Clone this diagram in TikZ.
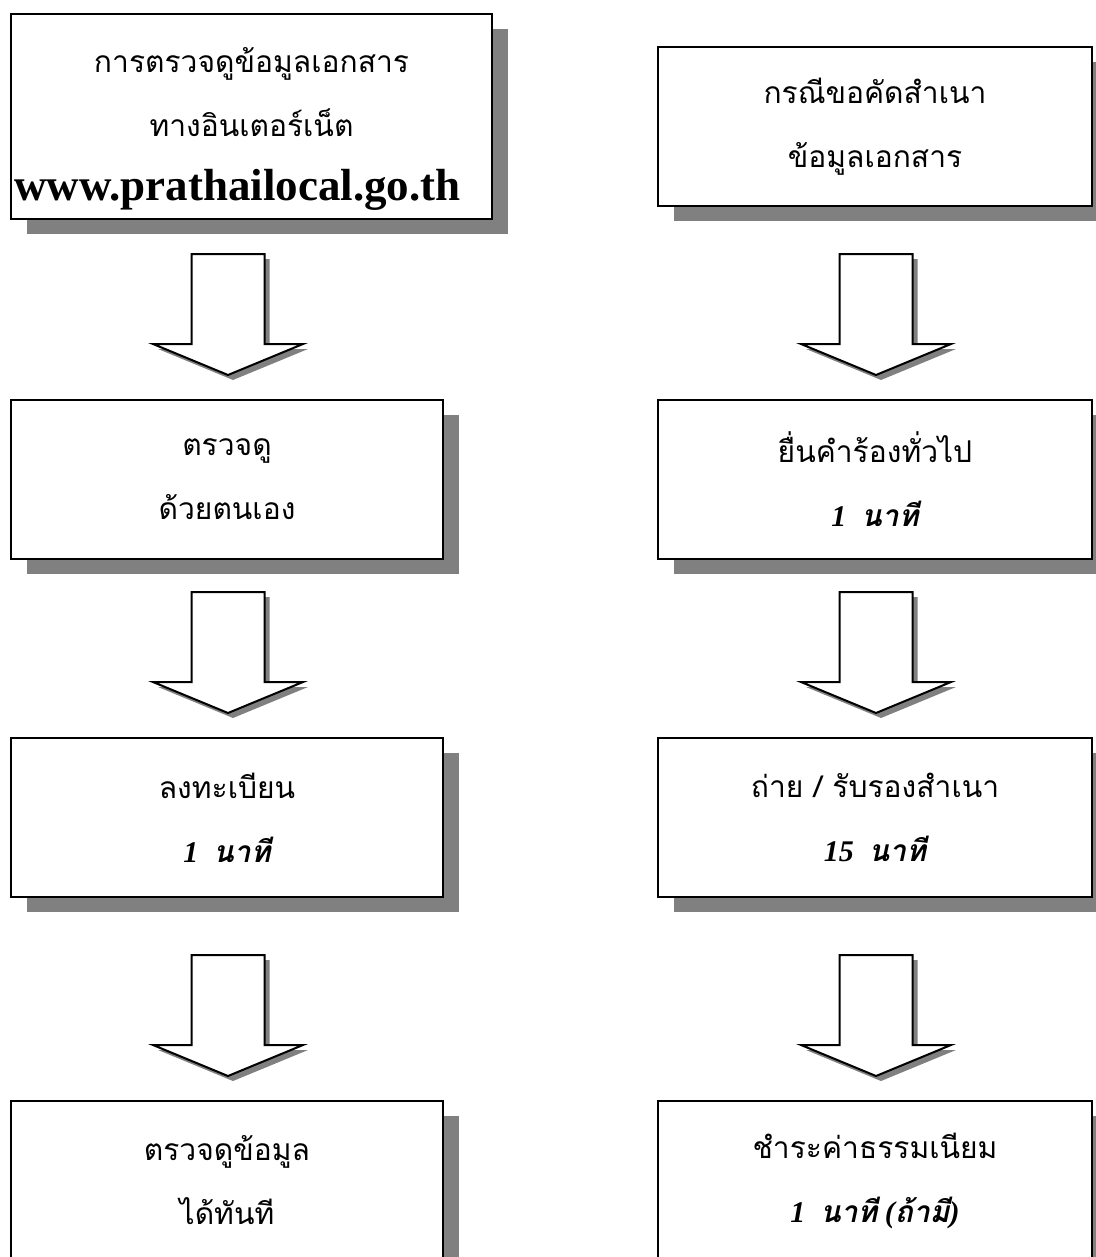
\documentclass[tikz,border=0pt]{standalone}
\usepackage{fontspec}
\setmainfont{Liberation Serif}
\newfontfamily\thaifont[Script=Thai]{Loma}
\usetikzlibrary{positioning,shadows,calc}

\newcommand\nati[1]{{\rmfamily\bfseries\itshape #1\ \ {\thaifont นาที}}}

\tikzset{
  box/.style={draw, line width=1pt, fill=white, minimum width=216pt,
    minimum height=79.5pt, inner sep=0pt, align=center,
    font=\thaifont\fontsize{15}{32}\selectfont,
    drop shadow={shadow xshift=8pt, shadow yshift=-7.5pt, fill=black!50, opacity=1}},
  downblock/.pic={
    \fill[black!50, shift={(5,5)}] (0,0) -- (75,-31) -- (36.5,-31) -- (36.5,-121)
      -- (-36.5,-121) -- (-36.5,-31) -- (-75,-31) -- cycle;
    \filldraw[fill=white, draw=black, line width=1pt] (0,0) -- (75,-31) -- (36.5,-31)
      -- (36.5,-121) -- (-36.5,-121) -- (-36.5,-31) -- (-75,-31) -- cycle;
  }
}

\begin{document}
\begin{tikzpicture}[x=0.5pt,y=-0.5pt]
  \useasboundingbox (0,0) rectangle (1096,1257);
  \fill[white] (0,0) rectangle (1096,1257);

  % left column
  \node[box, minimum width=240.5pt, minimum height=102.5pt] (l1) at (251.5,116.5)
    {\rule{0pt}{25pt}การตรวจดูข้อมูลเอกสาร\\ทางอินเตอร์เน็ต\\\mbox{\rmfamily\bfseries\fontsize{22.5}{32}\selectfont www.prathailocal.go.th\kern14pt}};
  \node[box] (l2) [below=89.5pt of l1.south west, anchor=north west] {ตรวจดู\\ด้วยตนเอง};
  \node[box] (l3) [below=88.5pt of l2] {ลงทะเบียน\\\nati{1}};
  \node[box] (l4) [below=101pt of l3] {ตรวจดูข้อมูล\\ได้ทันที};

  % right column
  \node[box, minimum width=217pt] (r1) at (875,126.5) {กรณีขอคัดสำเนา\\ข้อมูลเอกสาร};
  \node[box, minimum width=217pt] (r2) [below=96pt of r1] {ยื่นคำร้องทั่วไป\\\nati{1}};
  \node[box, minimum width=217pt] (r3) [below=88.5pt of r2] {ถ่าย / รับรองสำเนา\\\nati{15}};
  \node[box, minimum width=217pt] (r4) [below=101pt of r3]
    {ชำระค่าธรรมเนียม\\\nati{1}{\rmfamily\bfseries\itshape\ (\thaifont ถ้ามี\rmfamily)}};

  % block arrows
  \pic (a1) at ($(l2.north)+(1,-24)$) {downblock};
  \pic (a2) at ($(l3.north)+(1,-24)$) {downblock};
  \pic (a3) at ($(l4.north)+(1,-24)$) {downblock};
  \pic (b1) at ($(r2.north)+(1,-24)$) {downblock};
  \pic (b2) at ($(r3.north)+(1,-24)$) {downblock};
  \pic (b3) at ($(r4.north)+(1,-24)$) {downblock};
\end{tikzpicture}
\end{document}
